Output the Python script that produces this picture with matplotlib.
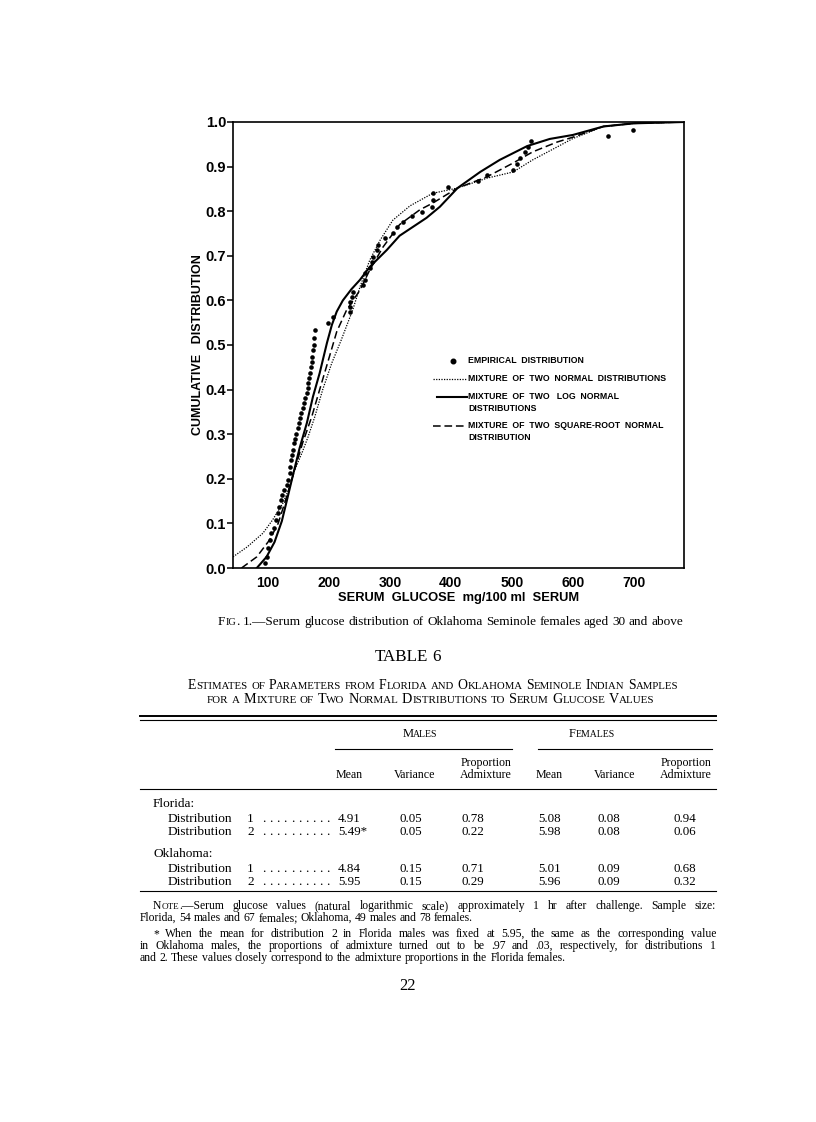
import matplotlib
matplotlib.use("Agg")
import matplotlib.pyplot as plt
from matplotlib.lines import Line2D

# ---- figure 1 data ----
# empirical cumulative distribution (serum glucose mg/100 ml, proportion)
emp_x = [95, 98, 100, 103, 106, 111, 114, 117, 118, 121, 123, 126, 131, 133, 136,
         136, 138, 139, 141, 143, 144, 146, 149, 151, 153, 155, 158, 159, 161, 164,
         166, 166, 167, 169, 170, 172, 172, 174, 175, 175, 177,
         198, 207, 234, 234, 234, 238, 239, 256, 259, 259, 267, 270, 272, 279, 280,
         292, 305, 311, 321, 336, 352, 369, 370, 370, 395,
         444, 459, 502, 508, 513, 521, 526, 532, 657, 698]
emp_y = [0.011, 0.025, 0.045, 0.063, 0.078, 0.090, 0.108, 0.123, 0.137, 0.152, 0.164,
         0.175, 0.186, 0.197, 0.213, 0.227, 0.242, 0.253, 0.265, 0.280, 0.290, 0.300,
         0.314, 0.325, 0.336, 0.347, 0.358, 0.370, 0.381, 0.392, 0.403, 0.414, 0.426,
         0.437, 0.450, 0.462, 0.473, 0.489, 0.500, 0.516, 0.534,
         0.549, 0.563, 0.574, 0.585, 0.596, 0.608, 0.619, 0.634, 0.646, 0.661, 0.673,
         0.686, 0.697, 0.713, 0.724, 0.740, 0.751, 0.765, 0.776, 0.789, 0.798, 0.809,
         0.825, 0.841, 0.854,
         0.868, 0.881, 0.892, 0.905, 0.919, 0.932, 0.944, 0.957, 0.969, 0.982]

# mixture of two normal distributions (dotted)
norm_x = [43, 66, 92, 108, 125, 136, 144, 156, 166, 177, 190, 205, 220, 239, 251,
          267, 284, 305, 333, 370, 411, 459, 502, 534, 574, 600, 650, 700, 782]
norm_y = [0.025, 0.047, 0.078, 0.108, 0.146, 0.182, 0.220, 0.258, 0.294, 0.339, 0.400,
          0.460, 0.510, 0.578, 0.630, 0.690, 0.735, 0.780, 0.812, 0.840, 0.852, 0.874,
          0.888, 0.915, 0.944, 0.963, 0.990, 0.997, 1.0]

# mixture of two log normal distributions (solid)
logn_x = [82, 98, 111, 123, 131, 141, 152, 164, 174, 185, 197, 205, 213, 223, 237,
          251, 267, 295, 316, 338, 360, 382, 411, 448, 480, 525, 562, 600, 650, 700, 782]
logn_y = [0.0, 0.025, 0.058, 0.105, 0.150, 0.207, 0.268, 0.325, 0.384, 0.437, 0.505,
          0.545, 0.575, 0.600, 0.625, 0.646, 0.675, 0.713, 0.745, 0.765, 0.785, 0.810,
          0.852, 0.888, 0.915, 0.946, 0.962, 0.971, 0.990, 0.997, 1.0]

# mixture of two square-root normal distributions (dashed)
sqrt_x = [57, 82, 103, 117, 131, 144, 157, 172, 185, 198, 213, 229, 251, 267, 289,
          316, 349, 370, 411, 459, 502, 534, 574, 600, 650, 700, 782]
sqrt_y = [0.0, 0.025, 0.063, 0.100, 0.160, 0.220, 0.280, 0.339, 0.400, 0.460, 0.530,
          0.578, 0.623, 0.668, 0.720, 0.770, 0.803, 0.818, 0.852, 0.877, 0.908, 0.933,
          0.955, 0.966, 0.990, 0.997, 1.0]

x_ticks = [100, 200, 300, 400, 500, 600, 700]
y_ticks = [0.0, 0.1, 0.2, 0.3, 0.4, 0.5, 0.6, 0.7, 0.8, 0.9, 1.0]
y_tick_labels = ['0.0', '0.1', '0.2', '0.3', '0.4', '0.5', '0.6', '0.7', '0.8', '0.9', '1.0']

legend_labels = ['EMPIRICAL  DISTRIBUTION',
                 'MIXTURE  OF  TWO  NORMAL  DISTRIBUTIONS',
                 'MIXTURE  OF  TWO   LOG  NORMAL\nDISTRIBUTIONS',
                 'MIXTURE  OF  TWO  SQUARE-ROOT  NORMAL\nDISTRIBUTION']

# ---- table 6 ----
col_heads = ['Mean', 'Variance', 'Proportion', 'Admixture']
groups = ['Florida:', 'Oklahoma:']
florida_rows = [['4.91', '0.05', '0.78', '5.08', '0.08', '0.94'],
                ['5.49*', '0.05', '0.22', '5.98', '0.08', '0.06']]
oklahoma_rows = [['4.84', '0.15', '0.71', '5.01', '0.09', '0.68'],
                 ['5.95', '0.15', '0.29', '5.96', '0.09', '0.32']]

caption = '{Fig.} 1.—Serum glucose distribution of Oklahoma Seminole females aged 30 and above'
title1 = 'Estimates of Parameters from Florida and Oklahoma Seminole Indian Samples'
title2 = 'for a Mixture of Two Normal Distributions to Serum Glucose Values'
notes = [
    '{Note.}—Serum glucose values (natural logarithmic scale) approximately 1 hr after challenge. Sample size:',
    'Florida, 54 males and 67 females; Oklahoma, 49 males and 78 females.',
    '* When the mean for distribution 2 in Florida males was fixed at 5.95, the same as the corresponding value',
    'in Oklahoma males, the proportions of admixture turned out to be .97 and .03, respectively, for distributions 1',
    'and 2. These values closely correspond to the admixture proportions in the Florida females.',
]

W, H = 816, 1122
SERIF = 'Liberation Serif'
plt.rcParams['font.family'] = ['Liberation Sans', 'DejaVu Sans']

fig = plt.figure(figsize=(W / 100, H / 100), dpi=100)
fig.patch.set_facecolor('white')
renderer = fig.canvas.get_renderer()

# ---- the chart ----
ax = fig.add_axes([233 / W, 1 - 568 / H, 451 / W, 446 / H])
ax.plot(norm_x, norm_y, color='black', lw=0.9, ls=(0, (1, 1.1)))
ax.plot(logn_x, logn_y, color='black', lw=1.5)
ax.plot(sqrt_x, sqrt_y, color='black', lw=1.1, ls=(0, (5, 2.5)))
ax.plot(emp_x, emp_y, 'o', color='black', ms=3.3, mec='none')
ax.set_xlim(43, 782)
ax.set_ylim(0, 1.0)
ax.set_xticks(x_ticks)
ax.set_yticks(y_ticks)
ax.set_yticklabels(y_tick_labels)
ax.tick_params(axis='x', length=0, pad=6, labelsize=10)
ax.tick_params(axis='y', length=4, width=1.1, pad=1, labelsize=10.5)
for lab in ax.get_xticklabels() + ax.get_yticklabels():
    lab.set_fontweight('bold')
for sp in ax.spines.values():
    sp.set_linewidth(1.2)
ax.set_xlabel('SERUM  GLUCOSE  mg/100 ml  SERUM', fontsize=9.3, fontweight='bold', labelpad=1)
ax.set_ylabel('CUMULATIVE   DISTRIBUTION', fontsize=9, fontweight='bold', labelpad=1)

# hand-drawn key, as in the original
tx = 0.521
ax.plot([0.488], [0.464], 'o', color='black', ms=3.3, transform=ax.transAxes)
ax.plot([0.444, 0.519], [0.424, 0.424], color='black', lw=0.9, ls=(0, (1, 1.1)), transform=ax.transAxes)
ax.plot([0.452, 0.519], [0.383, 0.383], color='black', lw=1.5, transform=ax.transAxes)
ax.plot([0.444, 0.519], [0.318, 0.318], color='black', lw=1.1, ls=(0, (5, 2.5)), transform=ax.transAxes)
for lab, yy in zip(legend_labels, [0.464, 0.424, 0.383, 0.318]):
    ax.text(tx, yy + 0.012, lab, transform=ax.transAxes, fontsize=6.3, fontweight='bold',
            va='top', ha='left', linespacing=1.5)


# ---- page text helpers (pixel coordinates, y = baseline) ----
def text_w(s, size):
    t = fig.text(0, 0, s, fontsize=size, family=SERIF)
    w = t.get_window_extent(renderer).width
    t.remove()
    return w


def runs_of(word, size, sc):
    # split a word into runs; lower case letters inside {} (or everywhere if sc) become small caps
    out = []
    inside = sc
    for ch in word:
        if ch == '{':
            inside = True
            continue
        if ch == '}':
            inside = False
            continue
        if inside and ch.islower():
            c, sz = ch.upper(), size * 0.78
        else:
            c, sz = ch, size
        if out and out[-1][1] == sz:
            out[-1] = (out[-1][0] + c, sz)
        else:
            out.append((c, sz))
    return out


def word_w(word, size, sc):
    return sum(text_w(c, sz) for c, sz in runs_of(word, size, sc))


def write(s, y, size, x0=None, x1=None, cx=None, rx=None, justify=False, fit=False, sc=False):
    words = s.split()
    space = text_w('a a', size) - text_w('aa', size)
    widths = [word_w(w, size, sc) for w in words]
    natural = sum(widths) + space * (len(words) - 1)
    if (fit or justify) and x1 is not None:
        span = x1 - x0
        if fit or natural > span:
            size = size * span / natural * (1.0 if fit else 0.98)
            space = text_w('a a', size) - text_w('aa', size)
            widths = [word_w(w, size, sc) for w in words]
    gap = space
    if justify and len(words) > 1:
        gap = (x1 - x0 - sum(widths)) / (len(words) - 1)
    total = sum(widths) + gap * (len(words) - 1)
    if cx is not None:
        x = cx - total / 2
    elif rx is not None:
        x = rx - total
    else:
        x = x0
    for w, ww in zip(words, widths):
        xx = x
        for c, sz in runs_of(w, size, sc):
            fig.text(xx / W, 1 - y / H, c, fontsize=sz, family=SERIF, va='baseline', ha='left')
            xx += text_w(c, sz)
        x += ww + gap


def rule(x0, x1, y, lw=0.8):
    fig.add_artist(Line2D([x0 / W, x1 / W], [1 - y / H, 1 - y / H], color='black', lw=lw))


# caption
write(caption, 625, 10, x0=218, x1=680, fit=True)

# table title
write('TABLE 6', 661, 11, x0=375, x1=441, fit=True)
write(title1, 689, 10, x0=188, x1=679, fit=True, sc=True)
write(title2, 703, 10, x0=207, x1=655, fit=True, sc=True)

rule(140, 716, 716, lw=1.4)
rule(140, 716, 720, lw=0.8)

write('Males', 737, 9, cx=420, sc=True)
write('Females', 737, 9, cx=592, sc=True)
rule(335, 512, 749, lw=0.8)
rule(538, 712, 749, lw=0.8)

for off in [0, 200]:
    write(col_heads[0], 778, 8.6, cx=349 + off)
    write(col_heads[1], 778, 8.6, cx=415 + off)
    write(col_heads[2], 766, 8.6, cx=486 + off)
    write(col_heads[3], 778, 8.6, cx=486 + off)
rule(140, 716, 789, lw=0.8)

col_x = [338, 400, 462, 538, 597, 674]
for group, rows, gy in [(groups[0], florida_rows, 807), (groups[1], oklahoma_rows, 857)]:
    write(group, gy, 9.6, x0=153)
    for i, row in enumerate(rows):
        ry = gy + 15 + 13 * i
        write('Distribution', ry, 9.6, x0=168)
        write(str(i + 1), ry, 9.6, x0=247)
        write('. . . . . . . . . .', ry, 9.6, x0=262, x1=330, justify=True)
        for xv, val in zip(col_x, row):
            write(val, ry, 9.4, x0=xv)
rule(140, 716, 891, lw=0.8)

write(notes[0], 909, 8.4, x0=153, x1=716, justify=True)
write(notes[1], 921, 8.4, x0=140)
write(notes[2], 937, 8.4, x0=153, x1=716, justify=True)
write(notes[3], 949, 8.4, x0=140, x1=716, justify=True)
write(notes[4], 961, 8.4, x0=140)

write('22', 990, 12, cx=408)

fig.savefig('out.png', dpi=100, facecolor='white')
